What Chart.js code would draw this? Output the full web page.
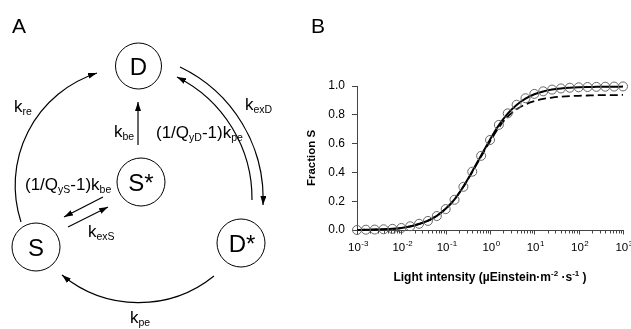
<!DOCTYPE html>
<html>
<head>
<meta charset="utf-8">
<script src="https://cdn.jsdelivr.net/npm/chart.js@4/dist/chart.umd.min.js"></script>
<style>
html, body { margin: 0; padding: 0; background: #fff; }
#wrap { position: relative; width: 631px; height: 329px; overflow: hidden; }
#chartBox { position: absolute; left: 300px; top: 0; width: 331px; height: 329px; }
#scheme { position: absolute; left: 0; top: 0; pointer-events: none; font-family: Arial, "Liberation Sans", sans-serif; }
</style>
</head>
<body>
<div id="wrap">
  <div id="chartBox"><canvas id="chart" width="331" height="329"></canvas></div>
  <svg id="scheme" width="631" height="329" viewBox="0 0 631 329">
    <defs>
      <marker id="ah" markerWidth="9" markerHeight="6" refX="9" refY="3" orient="auto" markerUnits="userSpaceOnUse">
        <path d="M0,0 L9,3 L0,6 Z" fill="#000"/>
      </marker>
    </defs>
    <text x="12" y="33" font-size="21">A</text>
    <text x="311" y="33" font-size="21">B</text>

    <g fill="none" stroke="#000" stroke-width="1">
      <circle cx="138.5" cy="66" r="23"/>
      <circle cx="141" cy="182" r="24"/>
      <circle cx="36" cy="247" r="24"/>
      <circle cx="241" cy="243" r="24"/>
    </g>
    <g font-size="24" text-anchor="middle">
      <text x="138.5" y="74.5">D</text>
      <text x="141" y="190.5">S*</text>
      <text x="36" y="255.5">S</text>
      <text x="242" y="251.5">D*</text>
    </g>

    <g fill="none" stroke="#000" stroke-width="1.2">
      <path d="M21,222 A118,118 0 0 1 97,73" marker-end="url(#ah)"/>
      <path d="M180,67 A146,146 0 0 1 263,205" marker-end="url(#ah)"/>
      <path d="M252,200 A136,136 0 0 0 177,77" marker-end="url(#ah)"/>
      <path d="M214,276 A120,120 0 0 1 62,275" marker-end="url(#ah)"/>
      <path d="M138,145 L138,102" marker-end="url(#ah)"/>
      <path d="M103,197 L64,217" marker-end="url(#ah)"/>
      <path d="M68,227 L108,207" marker-end="url(#ah)"/>
    </g>

    <g font-size="17">
      <text x="14" y="112">k<tspan font-size="10.5" dy="3">re</tspan></text>
      <text x="114" y="137">k<tspan font-size="10.5" dy="3">be</tspan></text>
      <text x="156" y="138">(1/Q<tspan font-size="10.5" dy="3">yD</tspan><tspan dy="-3">-1)k</tspan><tspan font-size="10.5" dy="3">pe</tspan></text>
      <text x="25" y="190">(1/Q<tspan font-size="10.5" dy="3">yS</tspan><tspan dy="-3">-1)k</tspan><tspan font-size="10.5" dy="3">be</tspan></text>
      <text x="245" y="110">k<tspan font-size="10.5" dy="3">exD</tspan></text>
      <text x="88" y="237">k<tspan font-size="10.5" dy="3">exS</tspan></text>
      <text x="130" y="323">k<tspan font-size="10.5" dy="3">pe</tspan></text>
    </g>
  </svg>
</div>
<script>
// light intensity (µEinstein m-2 s-1), 5 points per decade
const intensity = [0.001, 0.001585, 0.002512, 0.003981, 0.00631,
  0.01, 0.01585, 0.02512, 0.03981, 0.0631,
  0.1, 0.1585, 0.2512, 0.3981, 0.631,
  1, 1.585, 2.512, 3.981, 6.31,
  10, 15.85, 25.12, 39.81, 63.1,
  100, 158.5, 251.2, 398.1, 631, 1000];
// open circles
const fractionMeasured = [0.000, 0.002, 0.003, 0.005, 0.008,
  0.014, 0.026, 0.043, 0.063, 0.097,
  0.145, 0.21, 0.30, 0.405, 0.515,
  0.625, 0.73, 0.81, 0.87, 0.915,
  0.945, 0.963, 0.975, 0.983, 0.988,
  0.991, 0.993, 0.994, 0.995, 0.996, 0.997];
// solid curve
const fractionFull = [0.000, 0.002, 0.003, 0.005, 0.008,
  0.014, 0.025, 0.042, 0.064, 0.098,
  0.147, 0.213, 0.302, 0.407, 0.518,
  0.627, 0.728, 0.808, 0.868, 0.912,
  0.943, 0.962, 0.975, 0.983, 0.988,
  0.991, 0.993, 0.994, 0.995, 0.995, 0.996];
// dashed curve
const fractionReduced = [0.000, 0.002, 0.003, 0.005, 0.008,
  0.014, 0.025, 0.042, 0.064, 0.098,
  0.147, 0.213, 0.300, 0.403, 0.510,
  0.615, 0.712, 0.788, 0.838, 0.872,
  0.895, 0.910, 0.920, 0.926, 0.930,
  0.932, 0.934, 0.936, 0.937, 0.937, 0.938];

const decadeTicks = [0.001, 0.01, 0.1, 1, 10, 100, 1000];
const decadeExponents = ['-3', '-2', '-1', '0', '1', '2', '3'];
const minorSteps = [2, 3, 4, 5, 6, 7, 8, 9];
const yTicks = [0, 0.2, 0.4, 0.6, 0.8, 1.0];
// x title pieces: [text, superscript?]
const xTitleParts = [['Light intensity (µEinstein', false], ['·', false], ['m', false], ['-2', true],
  [' ·s', false], ['-1', true], [' )', false]];

function points(ys) {
  return intensity.map((x, i) => ({x: x, y: ys[i]}));
}

const axisColor = '#444';
const fontFam = 'Arial, "Liberation Sans", sans-serif';

// log axis tick marks, "10^n" labels and the x title with superscripts
const xAxisDecor = {
  id: 'xAxisDecor',
  afterDraw(chart) {
    const s = chart.scales.x;
    const c = chart.ctx;
    const y0 = Math.round(s.top) + 0.5;
    c.save();
    c.strokeStyle = axisColor;
    c.lineWidth = 1;
    c.beginPath();
    decadeTicks.forEach((d, i) => {
      const x = Math.round(s.getPixelForValue(d)) + 0.5;
      c.moveTo(x, y0); c.lineTo(x, y0 + 4);
      if (i < decadeTicks.length - 1) {
        minorSteps.forEach(m => {
          const xm = Math.round(s.getPixelForValue(d * m)) + 0.5;
          c.moveTo(xm, y0); c.lineTo(xm, y0 + 3);
        });
      }
    });
    c.stroke();

    c.fillStyle = '#000';
    c.textBaseline = 'alphabetic';
    c.textAlign = 'left';
    const baseFont = '11.5px ' + fontFam;
    const expFont = '8px ' + fontFam;
    decadeTicks.forEach((d, i) => {
      const x = s.getPixelForValue(d);
      c.font = baseFont;
      const w1 = c.measureText('10').width;
      c.font = expFont;
      const w2 = c.measureText(decadeExponents[i]).width;
      const x0 = x - (w1 + w2) / 2 + 1;
      c.font = baseFont;
      c.fillText('10', x0, s.top + 21);
      c.font = expFont;
      c.fillText(decadeExponents[i], x0 + w1 + 0.5, s.top + 16);
    });

    const tFont = 'bold 12px ' + fontFam;
    const sFont = 'bold 8px ' + fontFam;
    let total = 0;
    xTitleParts.forEach(p => { c.font = p[1] ? sFont : tFont; total += c.measureText(p[0]).width; });
    let tx = (chart.chartArea.left + chart.chartArea.right) / 2 - total / 2;
    const ty = s.top + 51;
    xTitleParts.forEach(p => {
      c.font = p[1] ? sFont : tFont;
      c.fillText(p[0], tx, p[1] ? ty - 5 : ty);
      tx += c.measureText(p[0]).width;
    });
    c.restore();
  }
};

Chart.defaults.font.family = fontFam;

new Chart(document.getElementById('chart'), {
  type: 'scatter',
  data: {
    datasets: [
      {
        label: 'measured',
        data: points(fractionMeasured),
        showLine: false,
        pointRadius: 4.5,
        pointBorderWidth: 1,
        pointBorderColor: '#666',
        pointBackgroundColor: 'rgba(0,0,0,0)',
        clip: false,
      },
      {
        label: 'full model',
        data: points(fractionFull),
        showLine: true,
        borderColor: '#000',
        borderWidth: 2,
        pointRadius: 0,
        cubicInterpolationMode: 'monotone',
        clip: false,
      },
      {
        label: 'reduced model',
        data: points(fractionReduced),
        showLine: true,
        borderColor: '#000',
        borderWidth: 1.8,
        borderDash: [8, 4],
        pointRadius: 0,
        cubicInterpolationMode: 'monotone',
        clip: false,
      },
    ]
  },
  options: {
    responsive: false,
    animation: false,
    events: [],
    layout: { padding: { left: 0, right: 8, top: 86, bottom: 0 } },
    plugins: { legend: { display: false }, tooltip: { enabled: false } },
    scales: {
      x: {
        type: 'logarithmic',
        min: 0.001,
        max: 1000,
        afterBuildTicks(s) { s.ticks = decadeTicks.map(v => ({value: v})); },
        afterFit(s) { s.height = 99; s.paddingLeft = 0; s.paddingRight = 0; },
        grid: { display: false, drawTicks: false },
        border: { display: true, color: axisColor, width: 1 },
        ticks: { display: false },
        title: { display: false },
      },
      y: {
        min: 0,
        max: 1,
        afterBuildTicks(s) { s.ticks = yTicks.map(v => ({value: v})); },
        afterFit(s) { s.width = 57; s.paddingTop = 0; s.paddingBottom = 0; },
        grid: { drawOnChartArea: false, tickLength: 5, color: axisColor },
        border: { color: axisColor, width: 1 },
        ticks: {
          padding: 7,
          color: '#000',
          font: { size: 12 },
          callback: v => v.toFixed(1),
        },
        title: {
          display: true,
          text: 'Fraction S',
          color: '#000',
          font: { size: 11.5, weight: 'bold' },
          padding: { top: 5, bottom: 0 },
        },
      },
    },
  },
  plugins: [xAxisDecor],
});
</script>
</body>
</html>
